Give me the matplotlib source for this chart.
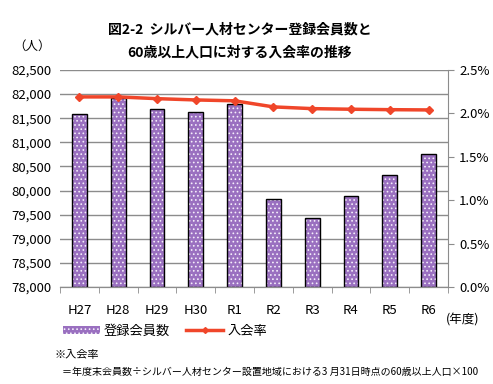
import numpy as np
import matplotlib.pyplot as plt
from matplotlib.ticker import FuncFormatter, MultipleLocator
from matplotlib.patches import Patch
from matplotlib.lines import Line2D

plt.rcParams['font.family'] = ['Noto Sans CJK JP', 'DejaVu Sans']
plt.rcParams['hatch.linewidth'] = 0.7

# データ
nendo = ['H27', 'H28', 'H29', 'H30', 'R1', 'R2', 'R3', 'R4', 'R5', 'R6']
kaiin = [81580, 81910, 81685, 81620, 81795, 79820, 79425, 79885, 80315, 80750]
nyukai_ritsu = [2.19, 2.19, 2.17, 2.155, 2.145, 2.075, 2.055, 2.048, 2.043, 2.04]

fig = plt.figure(figsize=(4.93, 3.84), dpi=100)
ax = fig.add_axes([60/493, 1-287/384, 388/493, 217/384])
ax2 = ax.twinx()

x = np.arange(len(nendo))
# 棒グラフ（紫に白の点模様）
ax.bar(x, [v - 78000 for v in kaiin], width=0.38, bottom=78000,
       color='#9a70c0', edgecolor='#f4eefa', hatch='....', linewidth=0, zorder=2)
ax.bar(x, [v - 78000 for v in kaiin], width=0.38, bottom=78000,
       facecolor='none', edgecolor='black', linewidth=1.0, zorder=3)

ax2.plot(x, nyukai_ritsu, color='#f0462a', linewidth=2.5, marker='D',
         markersize=4, zorder=4)

ax.set_ylim(78000, 82500)
ax.set_xlim(-0.5, len(nendo) - 0.5)
ax.yaxis.set_major_locator(MultipleLocator(500))
ax.yaxis.set_major_formatter(FuncFormatter(lambda v, p: f'{int(v):,}'))
ax.grid(axis='y', color='#8c8c8c', linewidth=1.0, zorder=0)
ax.set_axisbelow(True)
ax2.set_ylim(0, 2.5)
ax2.yaxis.set_major_locator(MultipleLocator(0.5))
ax2.yaxis.set_major_formatter(FuncFormatter(lambda v, p: f'{v:.1f}%'))

ax.set_xticks(x)
ax.set_xticklabels(nendo)
ax.set_xticks(np.arange(-0.5, len(nendo), 1), minor=True)
ax.tick_params(axis='x', which='major', length=0, pad=12, labelsize=9.5)
ax.tick_params(axis='x', which='minor', length=4, color='#8c8c8c', direction='out')
ax.tick_params(axis='y', length=0, labelsize=9.5, pad=6)
ax2.tick_params(axis='y', length=4, color='#8c8c8c', labelsize=9.5, pad=4)

for a in (ax, ax2):
    for s in ['top', 'left']:
        a.spines[s].set_visible(False)
    a.spines['bottom'].set_color('#8c8c8c')
    a.spines['right'].set_color('#8c8c8c')
ax.spines['right'].set_visible(False)

fig.text(240/493, 1-29/384, '図2-2  シルバー人材センター登録会員数と', ha='center', va='center',
         fontsize=10, fontweight='bold')
fig.text(240/493, 1-52/384, '60歳以上人口に対する入会率の推移', ha='center', va='center',
         fontsize=10, fontweight='bold')
fig.text(32/493, 1-46/384, '（人）', ha='center', va='center', fontsize=9)
fig.text(463/493, 1-320/384, '(年度)', ha='center', va='center', fontsize=9)

# 凡例
handles = [Patch(facecolor='#9a70c0', edgecolor='#f4eefa', hatch='....', linewidth=0),
           Line2D([0], [0], color='#f0462a', linewidth=2.5, marker='D', markersize=3)]
fig.legend(handles, ['登録会員数', '入会率'], loc='center', bbox_to_anchor=(165/493, 1-331/384),
           ncol=2, frameon=False, fontsize=9.5, handlelength=2.8, handletextpad=0.3,
           columnspacing=1.2, handleheight=0.6)

fig.text(55/493, 1-355/384, '※入会率', ha='left', va='center', fontsize=8)
fig.text(62/493, 1-372/384, '＝年度末会員数÷シルバー人材センター設置地域における3 月31日時点の60歳以上人口×100',
         ha='left', va='center', fontsize=7.2)

fig.savefig('out.png', dpi=100)
